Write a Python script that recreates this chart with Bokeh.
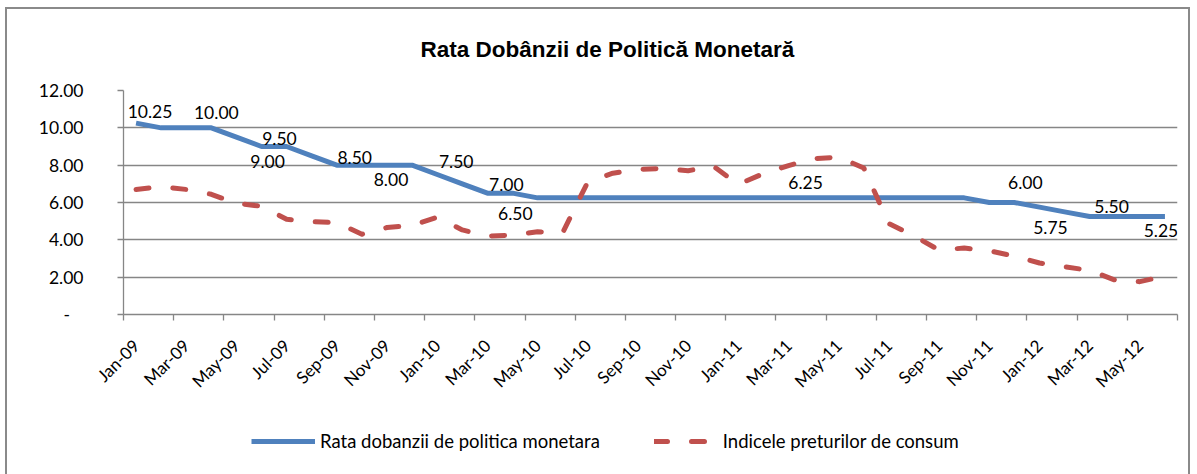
import math
from bokeh.plotting import figure
from bokeh.layouts import column
from bokeh.models import (ColumnDataSource, FixedTicker, CustomJSTickFormatter,
                          Legend, LegendItem, Range1d)
from bokeh.embed import file_html
from bokeh.resources import INLINE
from bokeh.core.properties import value

# ---------------- data ----------------
months = ["Jan-09", "Feb-09", "Mar-09", "Apr-09", "May-09", "Jun-09", "Jul-09", "Aug-09",
          "Sep-09", "Oct-09", "Nov-09", "Dec-09", "Jan-10", "Feb-10", "Mar-10", "Apr-10",
          "May-10", "Jun-10", "Jul-10", "Aug-10", "Sep-10", "Oct-10", "Nov-10", "Dec-10",
          "Jan-11", "Feb-11", "Mar-11", "Apr-11", "May-11", "Jun-11", "Jul-11", "Aug-11",
          "Sep-11", "Oct-11", "Nov-11", "Dec-11", "Jan-12", "Feb-12", "Mar-12", "Apr-12",
          "May-12", "Jun-12"]

policy_rate = [10.25, 10.00, 10.00, 10.00, 9.50, 9.00, 9.00, 8.50,
               8.00, 8.00, 8.00, 8.00, 7.50, 7.00, 6.50, 6.50,
               6.25, 6.25, 6.25, 6.25, 6.25, 6.25, 6.25, 6.25,
               6.25, 6.25, 6.25, 6.25, 6.25, 6.25, 6.25, 6.25,
               6.25, 6.25, 6.00, 6.00, 5.75, 5.50, 5.25, 5.25,
               5.25, 5.25]

cpi = [6.70, 6.85, 6.70, 6.44, 5.95, 5.80, 5.10, 4.97,
       4.92, 4.30, 4.66, 4.77, 5.21, 4.53, 4.20, 4.25,
       4.43, 4.38, 7.10, 7.57, 7.77, 7.82, 7.70, 7.95,
       6.97, 7.55, 7.98, 8.35, 8.43, 7.85, 4.87, 4.21,
       3.45, 3.56, 3.41, 3.13, 2.76, 2.56, 2.36, 1.85,
       1.76, 2.06]

tick_labels = months[::2]
y_ticks = [0, 2, 4, 6, 8, 10, 12]

# data labels on the policy-rate series (index of labelled month)
label_idx = [0, 3, 4, 5, 7, 10, 12, 13, 14, 27, 35, 36, 37, 41]

series_names = ["Rata dobanzii de politica monetara", "Indicele preturilor de consum"]
title_text = "Rata Dobânzii de Politică Monetară"

# ---------------- style ----------------
label_dx = [14, 5, 43, 6, 43, 4, 19, 44, 28, -8, 11, 11, 47, -4]
label_dy = [-12, -15, 1, 15, 2, 14, -13, 1, 20, -15, -20, 20, -5, 14]

BLUE = "#4F81BD"
RED = "#C0504D"
GRAY = "#868686"
FONT = "Lato"
FS = "17.5px"
DASH = "13 24"

n = len(months)
xs = [i + 0.5 for i in range(n)]

p = figure(width=1181, height=420, x_range=Range1d(0, n), y_range=Range1d(0, 12),
           output_backend="svg", toolbar_location=None,
           min_border_left=116, min_border_right=11, min_border_top=80, min_border_bottom=115)
p.outline_line_color = None
p.background_fill_color = "white"
p.border_fill_color = "white"

# title
p.title.text = title_text
p.title.align = "left"
p.title.offset = 297
p.title.vertical_align = "top"
p.title.text_font = "Liberation Sans"
p.title.text_font_style = "bold"
p.title.text_font_size = "22.5px"
p.title.text_color = "black"
p.title.standoff = 54

# grid
p.xgrid.visible = False
p.ygrid.ticker = FixedTicker(ticks=y_ticks)
p.ygrid.grid_line_color = GRAY
p.ygrid.grid_line_width = 1.3

# y axis
ya = p.yaxis[0]
ya.ticker = FixedTicker(ticks=y_ticks)
ya.formatter = CustomJSTickFormatter(code="return tick == 0 ? '-\u00a0\u00a0\u00a0' : tick.toFixed(2);")
ya.axis_line_color = GRAY
ya.axis_line_width = 1.3
ya.major_tick_line_color = GRAY
ya.major_tick_line_width = 1.3
ya.major_tick_out = 6
ya.major_tick_in = 0
ya.minor_tick_line_color = None
ya.major_label_standoff = 34
ya.major_label_text_font = FONT
ya.major_label_text_font_size = FS
ya.major_label_text_color = "black"

# x axis
centers = xs[::2]
bounds = list(range(0, n + 1, 2))
xa = p.xaxis[0]
xa.ticker = FixedTicker(ticks=centers, minor_ticks=bounds)
xa.major_label_overrides = {c: t for c, t in zip(centers, tick_labels)}
xa.major_tick_out = 0
xa.major_tick_in = 0
xa.major_tick_line_color = None
xa.minor_tick_out = 6
xa.minor_tick_in = 0
xa.minor_tick_line_color = GRAY
xa.minor_tick_line_width = 1.3
xa.axis_line_color = GRAY
xa.axis_line_width = 1.3
xa.major_label_orientation = math.pi / 4
xa.major_label_standoff = 22
xa.major_label_text_font = FONT
xa.major_label_text_font_size = "17px"
xa.major_label_text_color = "black"

# lines
src = ColumnDataSource(dict(x=xs, rate=policy_rate, cpi=cpi))
p.line("x", "rate", source=src, color=BLUE, line_width=5, line_join="round")
p.line("x", "cpi", source=src, color=RED, line_width=5, line_dash=DASH,
       line_cap="round", line_join="round")

# data labels
lab = ColumnDataSource(dict(
    x=[xs[i] for i in label_idx],
    y=[policy_rate[i] for i in label_idx],
    t=["%.2f" % policy_rate[i] for i in label_idx],
    dx=label_dx, dy=label_dy))
p.text("x", "y", text="t", source=lab, x_offset="dx", y_offset="dy",
       text_font=value(FONT), text_font_size=value(FS), text_color="black",
       text_align="center", text_baseline="middle")

# ---------------- legend strip ----------------
pl = figure(width=1181, height=45, x_range=Range1d(0, 1), y_range=Range1d(0, 1),
            output_backend="svg", toolbar_location=None, min_border=0,
            x_axis_location=None, y_axis_location=None)
pl.outline_line_color = None
pl.grid.visible = False
pl.background_fill_color = "white"
pl.border_fill_color = "white"
# off-screen proxies so the legend can draw its swatches
lr1 = pl.line(x=[-5, -4], y=[-5, -5], color=BLUE, line_width=5)
lr2 = pl.line(x=[-5, -4], y=[-5, -5], color=RED, line_width=5, line_dash=DASH, line_cap="round")

legend = Legend(items=[LegendItem(label=series_names[0], renderers=[lr1]),
                       LegendItem(label=series_names[1], renderers=[lr2])],
                orientation="horizontal", location=(128, 22))
legend.border_line_color = None
legend.background_fill_alpha = 0
legend.padding = 0
legend.margin = 0
legend.spacing = 54
legend.glyph_width = 64
legend.glyph_height = 20
legend.label_height = 20
legend.label_standoff = 5
legend.label_text_font = FONT
legend.label_text_font_size = "18.5px"
legend.label_text_color = "black"
pl.add_layout(legend)

layout = column(p, pl, margin=(7, 0, 0, 5), spacing=0,
                styles={"border-left": "2px solid #8a8a8a", "border-top": "2px solid #8a8a8a",
                        "border-right": "2px solid #8a8a8a"})

open("out.html", "w").write(file_html(layout, INLINE))
